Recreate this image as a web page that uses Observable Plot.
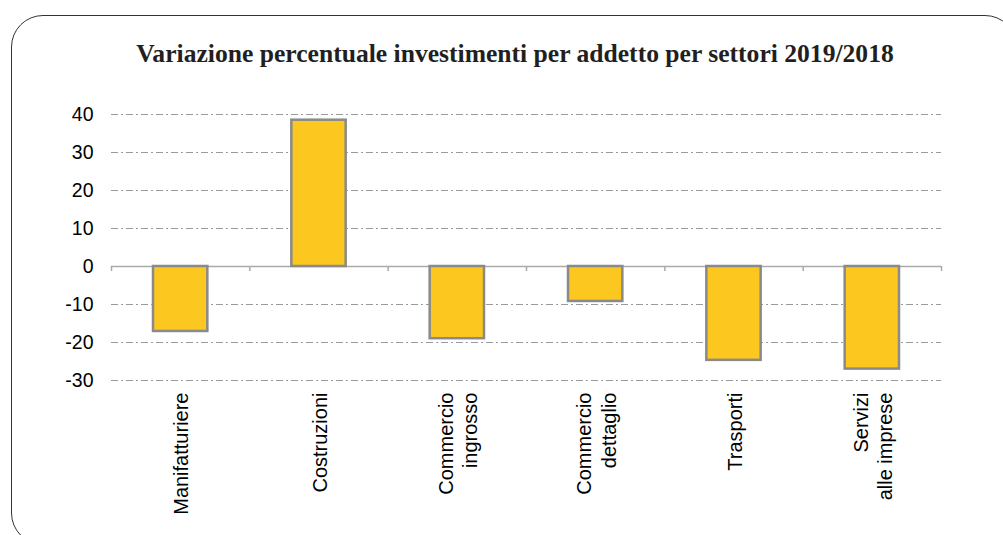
<!DOCTYPE html>
<html>
<head>
<meta charset="utf-8">
<script src="https://cdn.jsdelivr.net/npm/d3@7"></script>
<script src="https://cdn.jsdelivr.net/npm/@observablehq/plot@0.6"></script>
<style>
  html, body { margin: 0; padding: 0; background: #fff; overflow: hidden; }
  #wrap { position: relative; width: 1003px; height: 535px; overflow: hidden; }
  #frame { position: absolute; left: 11px; top: 15px; width: 1006px; height: 530px;
           border: 1.5px solid #333; border-radius: 32px; box-sizing: border-box; }
  #title { position: absolute; left: 0; width: 1030px; top: 41px; text-align: center;
           font-family: "Liberation Serif", "Times New Roman", serif; font-weight: bold;
           font-size: 25.6px; line-height: 25px; color: #231f20; white-space: nowrap; }
  #chart { position: absolute; left: 0; top: 0; }
</style>
</head>
<body>
<div id="wrap">
  <div id="frame"></div>
  <div id="title">Variazione percentuale investimenti per addetto per settori 2019/2018</div>
  <div id="chart"></div>
</div>
<script>
const categories = ["Manifatturiere", "Costruzioni", "Commercio\ningrosso", "Commercio\ndettaglio", "Trasporti", "Servizi\nalle imprese"];
const values = [-17.1, 38.5, -19.0, -9.2, -24.7, -27.0];
const yTicks = [-30, -20, -10, 0, 10, 20, 30, 40];
const gridTicks = [-30, -20, -10, 10, 20, 30, 40];

const data = categories.map((c, i) => ({category: c, index: i, value: values[i]}));
const boundaries = d3.range(categories.length + 1);

const chart = Plot.plot({
  width: 1003,
  height: 535,
  marginLeft: 111,
  marginRight: 62,
  marginTop: 114,
  marginBottom: 155,
  style: {fontFamily: "'Liberation Sans', Arial, sans-serif", fontSize: "19.5px", color: "#000", background: "transparent"},
  x: {type: "linear", domain: [0, categories.length], axis: null},
  y: {domain: [-30, 40], ticks: yTicks},
  marks: [
    Plot.ruleY(gridTicks, {stroke: "#9a9a9a", strokeWidth: 1, strokeDasharray: "7,3,2,3"}),
    Plot.ruleY([0], {stroke: "#aaaaaa", strokeWidth: 1.5}),
    Plot.ruleX(boundaries, {x: d => d, y1: d => 0, y2: d => 0, insetBottom: -5, stroke: "#aaaaaa", strokeWidth: 1.5}),
    Plot.rectY(data, {x1: d => d.index, x2: d => d.index + 1, y1: 0, y2: "value",
      insetLeft: 42, insetRight: 42, fill: "#fcc71e", stroke: "#8a8a8a", strokeWidth: 2.5}),
    Plot.axisY(yTicks, {tickSize: 0, tickPadding: 18, label: null, fontSize: 19.5, tickFormat: d => String(d)}),
    Plot.text(data, {x: d => d.index + 0.5, frameAnchor: "bottom", text: "category",
      rotate: -90, textAnchor: "end", lineAnchor: "middle", dy: 12, lineHeight: 1.22, fontSize: 20})
  ]
});
document.getElementById("chart").appendChild(chart);
</script>
</body>
</html>
